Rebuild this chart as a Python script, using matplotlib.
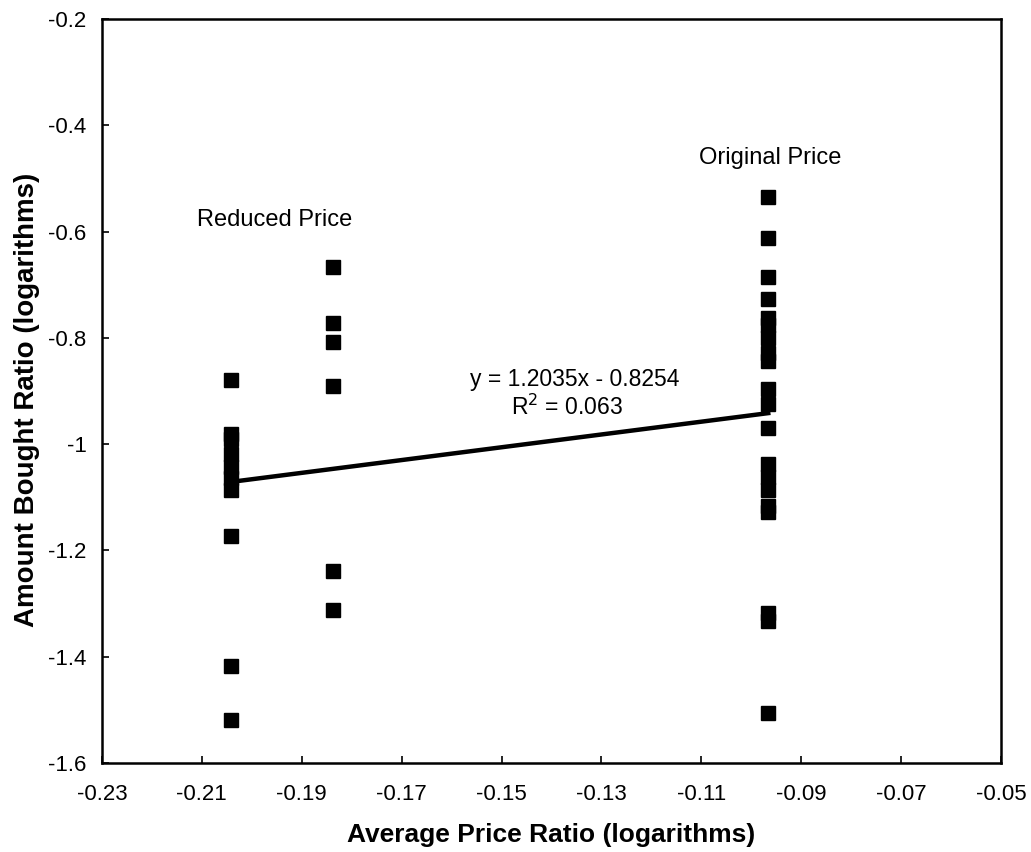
import matplotlib
matplotlib.use("Agg")
import matplotlib.pyplot as plt
import numpy as np

plt.rcParams['font.family'] = ['Liberation Sans', 'DejaVu Sans']

# Price ratios (log) for the three groups
x_reduced = -0.2042
x_mid = -0.1837
x_original = -0.0966

# Amount bought ratios (log) per group
y_reduced = [-0.879, -0.981, -0.990, -1.018, -1.043, -1.064, -1.086,
             -1.173, -1.418, -1.520]
y_mid = [-0.667, -0.772, -0.808, -0.891, -1.239, -1.312]
y_original = [-0.535, -0.612, -0.686, -0.727, -0.763, -0.775, -0.800,
              -0.829, -0.844, -0.896, -0.924, -0.970, -1.037, -1.062,
              -1.086, -1.116, -1.128, -1.318, -1.333, -1.506]

# Fitted trend line
slope = 1.2035
intercept = -0.8254
r_squared = 0.063

x_ticks = [-0.23, -0.21, -0.19, -0.17, -0.15, -0.13, -0.11, -0.09, -0.07, -0.05]
y_ticks = [-1.6, -1.4, -1.2, -1.0, -0.8, -0.6, -0.4, -0.2]
x_tick_labels = ['-0.23', '-0.21', '-0.19', '-0.17', '-0.15', '-0.13', '-0.11',
                 '-0.09', '-0.07', '-0.05']
y_tick_labels = ['-1.6', '-1.4', '-1.2', '-1', '-0.8', '-0.6', '-0.4', '-0.2']

fig = plt.figure(figsize=(10.31, 8.52), dpi=100)
ax = fig.add_axes([0.0989, 0.1045, 0.872, 0.8732])

xs = [x_reduced] * len(y_reduced) + [x_mid] * len(y_mid) + [x_original] * len(y_original)
ys = y_reduced + y_mid + y_original
ax.plot(xs, ys, linestyle='none', marker='s', markersize=9.5,
        color='black', markeredgecolor='black', zorder=3)

fit_x = np.array([x_reduced, x_original])
ax.plot(fit_x, slope * fit_x + intercept, color='black', linewidth=3.2, zorder=2)

ax.set_xlim(-0.23, -0.05)
ax.set_ylim(-1.6, -0.2)
ax.set_xticks(x_ticks)
ax.set_xticklabels(x_tick_labels)
ax.set_yticks(y_ticks)
ax.set_yticklabels(y_tick_labels)
ax.tick_params(direction='in', length=5, width=1.2, labelsize=16, colors='black')
ax.tick_params(axis='x', pad=15)
ax.tick_params(axis='y', pad=11)
for side in ax.spines.values():
    side.set_linewidth(1.8)

ax.set_xlabel('Average Price Ratio (logarithms)', fontsize=19, fontweight='bold')
ax.set_ylabel('Amount Bought Ratio (logarithms)', fontsize=20, fontweight='bold')
ax.xaxis.label.set_va('center')
ax.yaxis.label.set_va('center')
ax.xaxis.set_label_coords(0.5, -0.097)
ax.yaxis.set_label_coords(-0.0834, 0.488)

ax.text(-0.1954, -0.578, 'Reduced Price', fontsize=17, ha='center', va='center')
ax.text(-0.0962, -0.462, 'Original Price', fontsize=17, ha='center', va='center')
ax.text(-0.1353, -0.879, f'y = {slope:.4f}x - {abs(intercept):.4f}', fontsize=16.5,
        ha='center', va='center')
ax.text(-0.1369, -0.930, f'R$^2$ = {r_squared:.3f}', fontsize=16.5,
        ha='center', va='center')

fig.savefig('out.png', dpi=100)
